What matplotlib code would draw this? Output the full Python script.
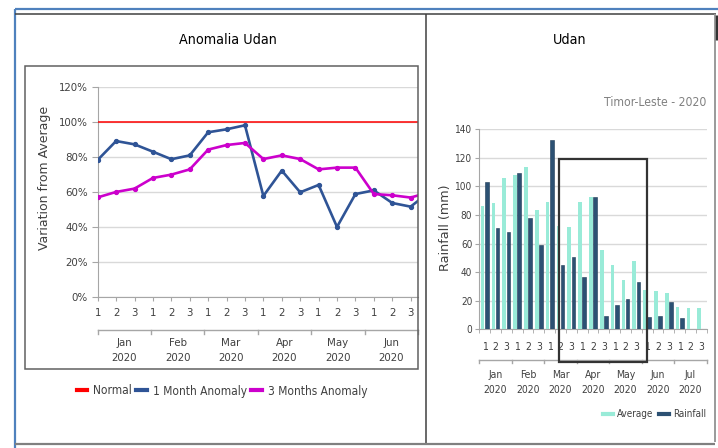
import numpy as np
import matplotlib
matplotlib.use('Agg')
import matplotlib.pyplot as plt
from matplotlib.patches import Rectangle
from matplotlib.lines import Line2D
import matplotlib.transforms as mtransforms
from matplotlib import font_manager as fm

# ---------------- data ----------------
dekads_left = ['1', '2', '3'] * 6
months_left = ['Jan', 'Feb', 'Mar', 'Apr', 'May', 'Jun']
year_label = '2020'
normal = [100] * 19
one_month_anomaly = [78.5, 89.3, 87.4, 83.2, 78.9, 81.1, 94.3, 96.0, 98.3, 57.9,
                     72.4, 60.0, 64.2, 40.2, 59.0, 61.1, 53.9, 51.8, 60.0]
three_months_anomaly = [57.1, 60.2, 62.1, 68.2, 70.1, 73.1, 84.4, 87.0, 88.2, 79.0,
                        81.1, 79.0, 73.1, 74.1, 74.1, 59.0, 58.3, 57.0, 60.0]

dekads_right = ['1', '2', '3'] * 7
months_right = ['Jan', 'Feb', 'Mar', 'Apr', 'May', 'Jun', 'Jul']
average = [86.3, 88.2, 106.2, 107.8, 113.9, 83.5, 88.9, 72.6, 71.6, 89.1, 92.4,
           55.3, 45.3, 34.8, 47.8, 27.5, 27.1, 25.2, 15.4, 14.7, 15.2]
rainfall = [103.1, 70.9, 68.4, 109.7, 77.7, 58.8, 132.3, 44.8, 50.6, 36.6, 92.6,
            9.3, 17.3, 21.2, 32.9, 8.9, 9.6, 19.4, 7.7, np.nan, np.nan]

# ---------------- fonts ----------------
names = {f.name for f in fm.fontManager.ttflist}
if 'Liberation Sans Narrow' in names:
    NK = dict(family='Liberation Sans Narrow')
    SC = 1.0
else:
    NK = dict(family='DejaVu Sans', fontstretch='condensed')
    SC = 0.87
RK = dict(family='DejaVu Sans')


def nprop(size):
    d = dict(size=size * SC, family=NK['family'])
    if 'fontstretch' in NK:
        d['stretch'] = NK['fontstretch']
    return d


TXT = '#404040'
GRID = '#D9D9D9'
AXC = '#A6A6A6'

W, H = 718, 448
fig = plt.figure(figsize=(W / 100, H / 100), dpi=100)
fig.patch.set_facecolor('white')


def fx(x):
    return x / W


def fy(y):
    return 1 - y / H


def fline(x0, y0, x1, y1, color, lw):
    fig.add_artist(Line2D([fx(x0), fx(x1)], [fy(y0), fy(y1)], transform=fig.transFigure,
                          color=color, lw=lw, solid_capstyle='butt'))


# ---------------- page frame ----------------
fline(14.7, 9, 718, 9, '#4F81BD', 1.6)
fline(14.7, 9, 14.7, 448, '#4F81BD', 1.6)
fline(15, 14.5, 716, 14.5, '#404040', 1.1)
fline(426.3, 14.5, 426.3, 444, '#404040', 1.1)
fline(714.5, 14.5, 714.5, 442, '#9A9A9A', 1.4)
fline(15, 443.5, 714.5, 443.5, '#808080', 1.6)
fline(717, 15, 717, 40, '#333333', 2.5)

fig.text(fx(228), fy(40), 'Anomalia Udan', ha='center', va='center', fontsize=11.8 * SC,
         color='black', **NK)
fig.text(fx(570), fy(40), 'Udan', ha='center', va='center', fontsize=11.8 * SC, color='black', **NK)

# left chart frame
fig.add_artist(Rectangle((fx(24.5), fy(369.3)), fx(417.7) - fx(24.5), (369.3 - 65.7) / H,
                         transform=fig.transFigure, fill=False, edgecolor='#606060', lw=1.1))

# ---------------- left chart ----------------
L0, L1, T0, B0 = 97.7, 418.0, 87.3, 297.3
axL = fig.add_axes([fx(L0), fy(B0), (L1 - L0) / W, (B0 - T0) / H])
x = np.arange(1, len(normal) + 1)
axL.plot(x, normal, color='#FF0000', lw=1.1, zorder=3, label='Normal')
axL.plot(x, one_month_anomaly, color='#2F5496', lw=1.9, marker='o', ms=2.8, zorder=4,
         label='1 Month Anomaly')
axL.plot(x, three_months_anomaly, color='#CC00CC', lw=1.9, marker='o', ms=2.8, zorder=4,
         label='3 Months Anomaly')
axL.set_xlim(1, 18.4)
axL.set_ylim(0, 120)
axL.set_yticks(range(0, 121, 20))
axL.set_yticklabels([f'{v}%' for v in range(0, 121, 20)], fontsize=9.4 * SC, color=TXT, **NK)
axL.set_xticks(range(1, len(dekads_left) + 1))
axL.set_xticklabels(dekads_left, fontsize=9.4 * SC, color=TXT, **NK)
axL.tick_params(axis='x', length=3, pad=5, color=AXC)
axL.tick_params(axis='y', length=4, pad=3, color=AXC)
axL.grid(axis='y', color=GRID, lw=1)
axL.set_axisbelow(True)
for s in ['top', 'right']:
    axL.spines[s].set_visible(False)
for s in ['left', 'bottom']:
    axL.spines[s].set_color(AXC)

hL = B0 - T0
trL = mtransforms.blended_transform_factory(axL.transData, axL.transAxes)
ysep = (B0 - 330) / hL
axL.plot([1, 18.4], [ysep, ysep], transform=trL, clip_on=False, color=AXC, lw=1)
bounds = np.linspace(1, 18.4, len(months_left) + 1)
for b in bounds:
    axL.plot([b, b], [ysep, ysep - 4 / hL], transform=trL, clip_on=False, color=AXC, lw=1)
for i, m in enumerate(months_left):
    mid = (bounds[i] + bounds[i + 1]) / 2
    axL.text(mid, (B0 - 343) / hL, m, transform=trL, ha='center', va='center',
             fontsize=9.4 * SC, color=TXT, **NK)
    axL.text(mid, (B0 - 357.5) / hL, year_label, transform=trL, ha='center', va='center',
             fontsize=9.4 * SC, color=TXT, **NK)

fig.text(fx(45), fy(178), 'Variation from Average', rotation=90, ha='center', va='center',
         fontsize=9.0, color=TXT, **RK)

legL = fig.legend(handles=axL.get_lines()[:3], loc='center', bbox_to_anchor=(fx(222), fy(391)),
                  ncol=3, frameon=False, handlelength=0.9, handletextpad=0.5, columnspacing=0.35,
                  prop=nprop(9.8))
for t in legL.get_texts():
    t.set_color(TXT)
for h in legL.legend_handles:
    h.set_linewidth(3)
    h.set_marker('')

# ---------------- right chart ----------------
R0, R1, RT, RB = 479.3, 706.7, 129.3, 329.3
axR = fig.add_axes([fx(R0), fy(RB), (R1 - R0) / W, (RB - RT) / H])
idx = np.arange(len(average))
axR.bar(idx - 0.19, average, 0.34, color='#99EBD8', zorder=3, label='Average')
axR.bar(idx + 0.19, rainfall, 0.34, color='#2C5173', edgecolor='#1E3A56', lw=0.4, zorder=3,
        label='Rainfall')
axR.set_xlim(-0.5, len(average) - 0.5)
axR.set_ylim(0, 140)
axR.set_yticks(range(0, 141, 20))
axR.set_yticklabels([str(v) for v in range(0, 141, 20)], fontsize=8.3 * SC, color=TXT, **NK)
axR.set_xticks(idx)
axR.set_xticklabels(dekads_right, fontsize=8.6 * SC, color=TXT, **NK)
axR.set_xticks(np.arange(-0.5, len(average), 1), minor=True)
axR.tick_params(axis='x', which='major', length=0, pad=9)
axR.tick_params(axis='x', which='minor', length=3, color=AXC)
axR.tick_params(axis='y', length=3, pad=2, color=AXC)
axR.grid(axis='y', color=GRID, lw=1)
axR.set_axisbelow(True)
for s in ['top', 'right']:
    axR.spines[s].set_visible(False)
for s in ['left', 'bottom']:
    axR.spines[s].set_color(AXC)

hR = RB - RT
trR = mtransforms.blended_transform_factory(axR.transData, axR.transAxes)
ysepR = (RB - 360) / hR
axR.plot([-0.5, len(average) - 0.5], [ysepR, ysepR], transform=trR, clip_on=False, color=AXC, lw=1)
for k in range(len(months_right) + 1):
    bx = -0.5 + 3 * k
    axR.plot([bx, bx], [ysepR, ysepR - 3 / hR], transform=trR, clip_on=False, color=AXC, lw=1)
for i, m in enumerate(months_right):
    mid = 3 * i + 1
    axR.text(mid, (RB - 374.5) / hR, m, transform=trR, ha='center', va='center',
             fontsize=8.6 * SC, color=TXT, **NK)
    axR.text(mid, (RB - 389.5) / hR, year_label, transform=trR, ha='center', va='center',
             fontsize=8.6 * SC, color=TXT, **NK)

fig.text(fx(446), fy(228), 'Rainfall (mm)', rotation=90, ha='center', va='center', fontsize=9.2,
         color=TXT, **RK)
fig.text(fx(706.7), fy(102.5), 'Timor-Leste - 2020', ha='right', va='center', fontsize=10 * SC,
         color='#808080', **NK)

hA = Line2D([], [], color='#99EBD8', lw=3)
hB = Line2D([], [], color='#2C5173', lw=3)
legR = fig.legend(handles=[hA, hB], labels=['Average', 'Rainfall'], loc='center right',
                  bbox_to_anchor=(fx(715), fy(414)), ncol=2, frameon=False, handlelength=1.0,
                  handletextpad=0.45, columnspacing=0.5, prop=nprop(8.2))
for t in legR.get_texts():
    t.set_color(TXT)

# highlight box
fig.add_artist(Rectangle((fx(559), fy(362.3)), fx(647.3) - fx(559), (362.3 - 159.3) / H,
                         transform=fig.transFigure, fill=False, edgecolor='#333333', lw=1.6,
                         zorder=10))

fig.savefig('out.png', dpi=100, facecolor='white')
